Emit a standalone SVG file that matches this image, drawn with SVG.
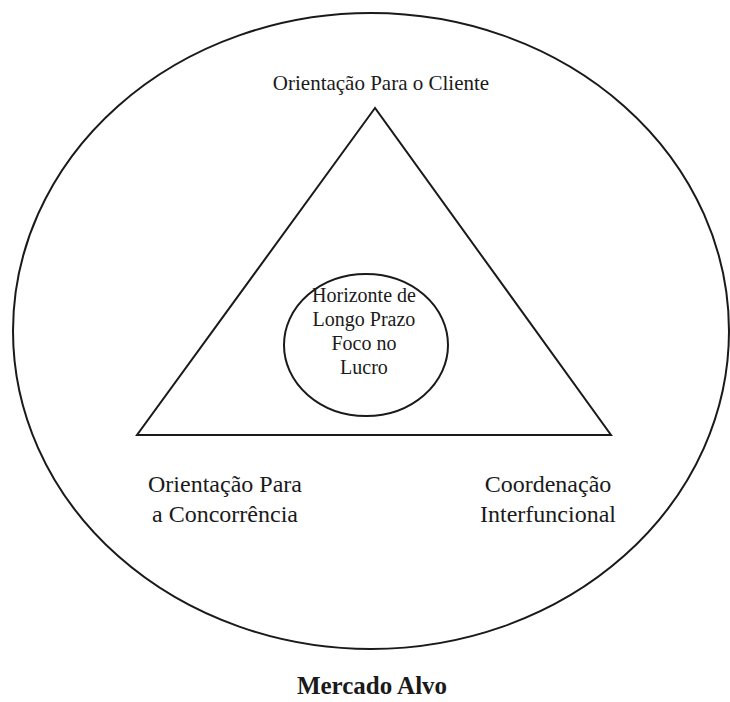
<svg xmlns="http://www.w3.org/2000/svg" width="730" height="702" viewBox="0 0 730 702">
<style>
.ln{fill:none;stroke:#1a1a1a;stroke-width:2}
text{font-family:"Liberation Serif","Times New Roman",serif;fill:#1a1a1a;text-anchor:middle}
.sm{font-size:21px}
.md{font-size:20px}
.lg{font-size:24px}
.bd{font-size:25px;font-weight:bold}
</style>
<rect width="730" height="702" fill="#ffffff"/>
<g id="mercado">
<ellipse class="ln" cx="371" cy="331" rx="358" ry="318"/>
<text class="bd" x="372" y="694">Mercado Alvo</text>
</g>
<g id="triangulo">
<polygon class="ln" points="375,108 137,435 611,435"/>
</g>
<g id="centro">
<ellipse class="ln" cx="366" cy="345" rx="82" ry="71"/>
<text class="md" x="364" y="302">Horizonte de</text>
<text class="md" x="364" y="326">Longo Prazo</text>
<text class="md" x="364" y="350">Foco no</text>
<text class="md" x="364" y="374">Lucro</text>
</g>
<g id="cliente">
<text class="sm" x="381" y="90">Orientação Para o Cliente</text>
</g>
<g id="concorrencia">
<text class="lg" x="225" y="492">Orientação Para</text>
<text class="lg" x="225" y="522">a Concorrência</text>
</g>
<g id="coordenacao">
<text class="lg" x="548" y="492">Coordenação</text>
<text class="lg" x="548" y="522">Interfuncional</text>
</g>
</svg>
